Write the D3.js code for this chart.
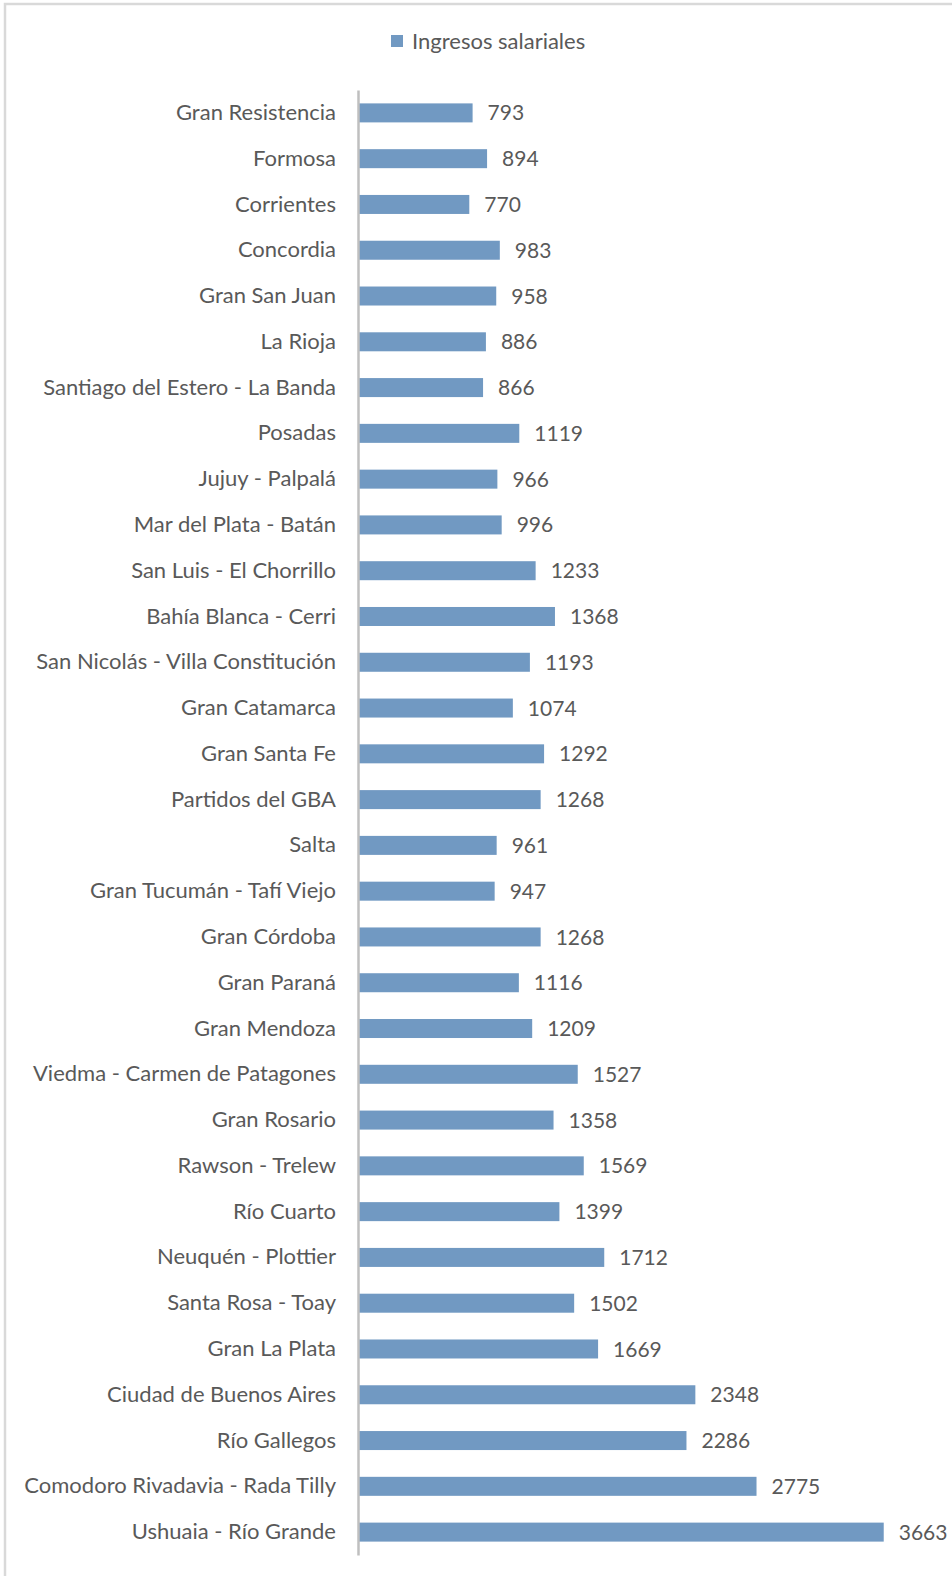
<!DOCTYPE html>
<html>
<head>
<meta charset="utf-8">
<script src="https://cdn.jsdelivr.net/npm/d3@7"></script>
<style>
  body { margin: 0; background: #fff; }
  text { font-family: Lato, "Open Sans", sans-serif; fill: #595959; }
</style>
</head>
<body>
<div id="chart"></div>
<script>
const cities = ["Gran Resistencia", "Formosa", "Corrientes", "Concordia", "Gran San Juan", "La Rioja",
  "Santiago del Estero - La Banda", "Posadas", "Jujuy - Palpalá", "Mar del Plata - Batán",
  "San Luis - El Chorrillo", "Bahía Blanca - Cerri", "San Nicolás - Villa Constitución",
  "Gran Catamarca", "Gran Santa Fe", "Partidos del GBA", "Salta", "Gran Tucumán - Tafí Viejo",
  "Gran Córdoba", "Gran Paraná", "Gran Mendoza", "Viedma - Carmen de Patagones", "Gran Rosario",
  "Rawson - Trelew", "Río Cuarto", "Neuquén - Plottier", "Santa Rosa - Toay", "Gran La Plata",
  "Ciudad de Buenos Aires", "Río Gallegos", "Comodoro Rivadavia - Rada Tilly", "Ushuaia - Río Grande"];
const ingresos = [793, 894, 770, 983, 958, 886, 866, 1119, 966, 996, 1233, 1368, 1193, 1074, 1292,
  1268, 961, 947, 1268, 1116, 1209, 1527, 1358, 1569, 1399, 1712, 1502, 1669, 2348, 2286, 2775, 3663];
const seriesName = "Ingresos salariales";

const width = 952, height = 1576;
const color = "#7199c2";

const svg = d3.select("#chart").append("svg")
  .attr("width", width)
  .attr("height", height);

// chart frame
svg.append("rect")
  .attr("x", 5).attr("y", 4)
  .attr("width", width).attr("height", height)
  .attr("fill", "none")
  .attr("stroke", "#d9d9d9")
  .attr("stroke-width", 2.5);

const y = d3.scaleBand()
  .domain(cities)
  .range([90, 1555])
  .paddingInner(0.585)
  .paddingOuter(0.2925);

const x = d3.scaleLinear()
  .domain([0, 4000])
  .range([359, 932]);

// bars
svg.selectAll(".bar")
  .data(cities)
  .enter().append("rect")
  .attr("class", "bar")
  .attr("x", x(0))
  .attr("y", d => y(d))
  .attr("width", (d, i) => x(ingresos[i]) - x(0))
  .attr("height", y.bandwidth())
  .attr("fill", color);

// value labels
svg.selectAll(".val")
  .data(cities)
  .enter().append("text")
  .attr("class", "val")
  .attr("x", (d, i) => x(ingresos[i]) + 15)
  .attr("y", d => y(d) + y.bandwidth() / 2)
  .attr("dy", "0.36em")
  .style("font-size", "21px")
  .text((d, i) => ingresos[i]);

// category axis
const yAxis = d3.axisLeft(y).tickSize(0).tickPadding(22);
const ax = svg.append("g")
  .attr("transform", "translate(" + 358 + ",0)")
  .call(yAxis);
ax.select(".domain").attr("stroke", "#bfbfbf").attr("stroke-width", 2.5);
ax.selectAll("text")
  .style("font-size", "22px")
  .style("font-family", "Lato, 'Open Sans', sans-serif")
  .attr("fill", "#595959");

// legend
const leg = svg.append("g").attr("transform", "translate(391,35)");
leg.append("rect").attr("width", 12).attr("height", 12).attr("fill", color);
leg.append("text")
  .attr("x", 21).attr("y", 6).attr("dy", "0.36em")
  .style("font-size", "22px")
  .text(seriesName);
</script>
</body>
</html>
